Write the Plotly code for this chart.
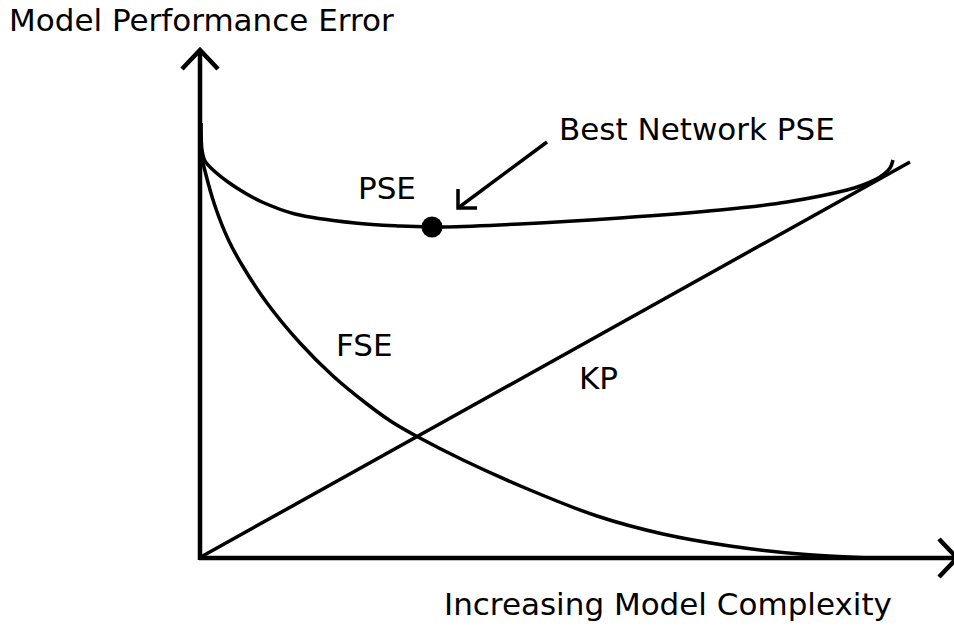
"""
Schematic: model performance error vs increasing model complexity
(PSE, FSE and KP curves, with the best network marked on PSE)
"""

import plotly.graph_objects as go

# data, arbitrary units (origin = where the two axes meet)
pse_x = [2, 3, 6, 13, 29, 46, 63, 96, 156, 201, 233, 244, 321, 421, 521, 588, 648, 664, 681, 691, 694]
pse_y = [435, 408, 397, 389, 376, 365, 356, 344, 335, 332, 331, 331, 334, 340, 348, 356, 368, 373, 381, 390, 398]

fse_x = [1.5, 3, 6, 16, 29, 43, 68, 101, 134, 168, 193, 219, 264, 331, 398, 464, 531, 601, 671]
fse_y = [435, 401, 387, 352, 319, 293, 255, 215, 182, 154, 136, 121, 98, 68, 42, 24, 12, 4, 0]

kp_x = [0, 711]
kp_y = [0, 396]

best_x = [233]
best_y = [331]

FONT = 'DejaVu Sans'
INK = 'black'


def create_complexity_chart():
    fig = go.Figure()

    for xs, ys in [(pse_x, pse_y), (fse_x, fse_y), (kp_x, kp_y)]:
        fig.add_trace(go.Scatter(
            x=xs, y=ys, mode='lines',
            line=dict(color=INK, width=3.5, shape='spline', smoothing=1.0),
            hoverinfo='skip', showlegend=False
        ))

    fig.add_trace(go.Scatter(
        x=best_x, y=best_y, mode='markers',
        marker=dict(color=INK, size=21),
        hoverinfo='skip', showlegend=False
    ))

    # axes with open arrowheads
    axis_line = dict(color=INK, width=4.5)
    fig.add_shape(type='line', x0=1, y0=-2, x1=1, y1=508, line=axis_line)
    fig.add_shape(type='path', path='M -17,489 L 1,508 L 19,489', line=axis_line)
    fig.add_shape(type='line', x0=0, y0=0, x1=758, y1=0, line=axis_line)
    fig.add_shape(type='path', path='M 740,19 L 758,0 L 740,-19', line=axis_line)

    # pointer to the best network
    pointer = dict(color=INK, width=3.5)
    fig.add_shape(type='line', x0=348, y0=416, x1=259, y1=350, line=pointer)
    fig.add_shape(type='path', path='M 259,369 L 259,350 L 278,350', line=pointer)

    labels = [
        ('Model Performance Error', -192, 558, 'left', 'top'),
        ('Increasing Model Complexity', 469, -46, 'center', 'middle'),
        ('Best Network PSE', 358, 429, 'left', 'middle'),
        ('PSE', 188, 370, 'center', 'middle'),
        ('FSE', 165, 213, 'center', 'middle'),
        ('KP', 399, 180, 'center', 'middle'),
    ]
    for text, x, y, xanchor, yanchor in labels:
        fig.add_annotation(
            text=text, x=x, y=y, xref='x', yref='y',
            xanchor=xanchor, yanchor=yanchor, showarrow=False,
            font=dict(family=FONT, size=31, color=INK)
        )

    fig.update_layout(
        width=954, height=629,
        margin=dict(l=0, r=0, t=0, b=0),
        plot_bgcolor='white', paper_bgcolor='white',
        xaxis=dict(range=[-199, 755], visible=False, fixedrange=True),
        yaxis=dict(range=[-71, 558], visible=False, fixedrange=True),
    )

    # page body has a default 8px margin; drop it so the figure fills the window
    fig.write_html('out.html', config={'displayModeBar': False},
                   post_script="document.body.style.margin='0';")
    return fig


if __name__ == '__main__':
    create_complexity_chart()
